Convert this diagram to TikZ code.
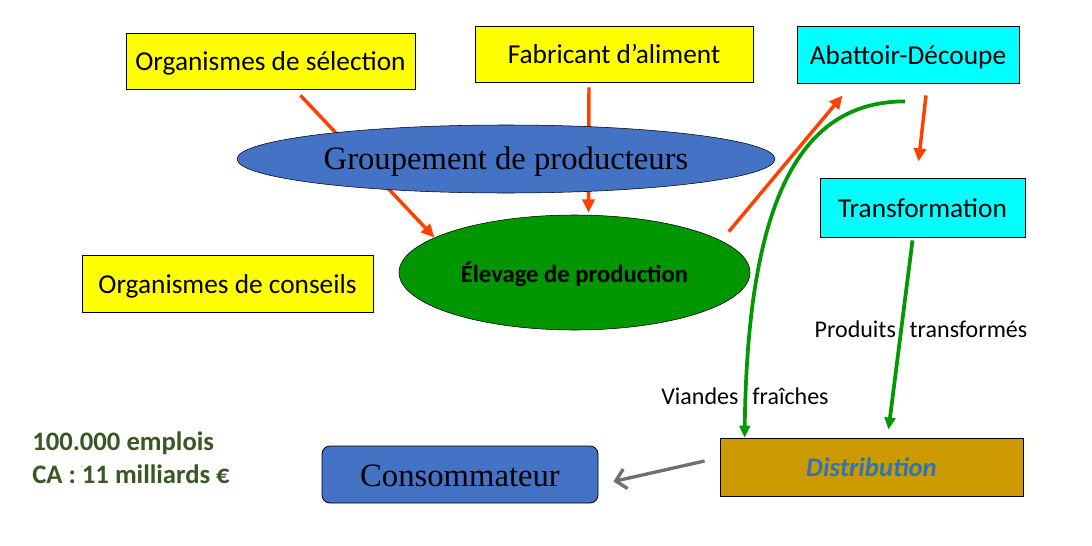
\documentclass[tikz,border=0pt]{standalone}
\usepackage{fontspec}
\setmainfont{Carlito}
\newfontfamily\timesfont{Liberation Serif}
\usetikzlibrary{shapes.geometric, arrows.meta, calc}

\definecolor{boxyellow}{RGB}{255,255,0}
\definecolor{boxcyan}{RGB}{0,255,255}
\definecolor{boxblue}{RGB}{68,114,196}
\definecolor{elevgreen}{RGB}{0,150,0}
\definecolor{distgold}{RGB}{204,153,0}
\definecolor{distblue}{RGB}{46,117,182}
\definecolor{arrowred}{RGB}{255,64,0}
\definecolor{arrowgreen}{RGB}{0,153,0}
\definecolor{arrowgray}{RGB}{112,112,112}
\definecolor{statgreen}{RGB}{56,87,35}

\begin{document}
\begin{tikzpicture}[x=0.75pt, y=-0.75pt,
    actor/.style={draw, line width=0.6pt, inner sep=0pt, text height=18pt, text depth=3.5pt,
                  font=\fontsize{20.5}{24}\selectfont},
    yellowbox/.style={actor, fill=boxyellow},
    cyanbox/.style={actor, fill=boxcyan},
    redarrow/.style={draw=arrowred, line width=2.6pt, -{Triangle[length=10pt, width=9pt]}},
    greenarrow/.style={draw=arrowgreen, line width=2.8pt, -{Triangle[length=9pt, width=8pt]}},
    grayarrow/.style={draw=arrowgray, line width=2.5pt, -{Straight Barb[length=7.5pt, width=15pt]}},
    flowlabel/.style={font=\fontsize{18}{22}\selectfont, inner sep=0pt}]

    \fill[white] (0,0) rectangle (1092,546);
    \useasboundingbox (0,0) rectangle (1092,546);

    % Draw nodes
    \node[yellowbox, minimum width=216.75pt, minimum height=42pt] (sel) at (270.5,61) {Organismes de sélection};
    \node[yellowbox, minimum width=208.5pt, minimum height=42pt] (fab) at (614,54) {Fabricant d’aliment};
    \node[cyanbox, minimum width=166.5pt, minimum height=42.75pt] (abat) at (908,54.5) {Abattoir-Découpe};
    \node[cyanbox, minimum width=153.75pt, minimum height=44.25pt] (transf) at (922.5,207.5) {Transformation};
    \node[yellowbox, minimum width=218.25pt, minimum height=42.75pt] (conseil) at (227.5,283.5) {Organismes de conseils};
    \node[ellipse, draw, fill=elevgreen, inner sep=0pt, minimum width=263.25pt, minimum height=86.25pt,
          text height=18pt, text depth=2.5pt,
          font=\fontsize{18.5}{22}\selectfont\bfseries] (elev) at (574.5,272.5) {Élevage de production};
    \node[actor, fill=boxblue, rounded corners=6pt, minimum width=207pt, minimum height=42.75pt,
          text height=18pt, text depth=0pt,
          font=\fontsize{24.5}{28}\timesfont] (consom) at (460,474.5) {Consommateur};
    \node[actor, fill=distgold, minimum width=227.25pt, minimum height=43.5pt, text height=14pt, text depth=0pt,
          font=\fontsize{20}{24}\selectfont\bfseries\itshape, text=distblue] (distrib) at (871.5,467) {Distribution};

    % Draw connections
    \draw[redarrow] ($(sel.south)+(30,6)$) -- (elev.166);
    \draw[redarrow] ($(fab.south)+(-25,5)$) -- ($(elev.north)+(14,-2)$);
    \draw[redarrow] ($(elev.north east)+(30,0)$) -- ($(abat.south west)+(46,12)$);
    \draw[redarrow] ($(abat.south)+(18,12)$) -- ($(transf.north)+(-4,-16)$);
    \draw[greenarrow] ($(abat.south)+(-3,18)$) .. controls +(-105,0) and +(3,-238) .. ($(distrib.north west)+(25,0)$);
    \draw[greenarrow] ($(transf.south)+(-10,3)$) -- ($(distrib.north)+(17,-8)$);
    \draw[grayarrow] ($(distrib.west)+(-15,-6)$) -- ($(consom.east)+(15,7)$);

    % Groupement over the arrows
    \node[ellipse, draw, fill=boxblue, inner sep=0pt, minimum width=403.5pt, minimum height=51pt,
          text height=19pt, text depth=3pt,
          font=\fontsize{24.5}{28}\timesfont] (group) at (506,159) {Groupement de producteurs};

    % Labels
    \node[flowlabel] (prodlbl) at (921,329) {Produits\hspace{0.35em} transformés};
    \node[flowlabel] (viandlbl) at (745,396) {Viandes\hspace{0.35em} fraîches};
    \node[anchor=west, align=left, inner sep=0pt, text=statgreen,
          font=\fontsize{20}{25}\selectfont\bfseries] (stats) at (32,458) {100.000 emplois\\CA : 11 milliards €};
\end{tikzpicture}
\end{document}
